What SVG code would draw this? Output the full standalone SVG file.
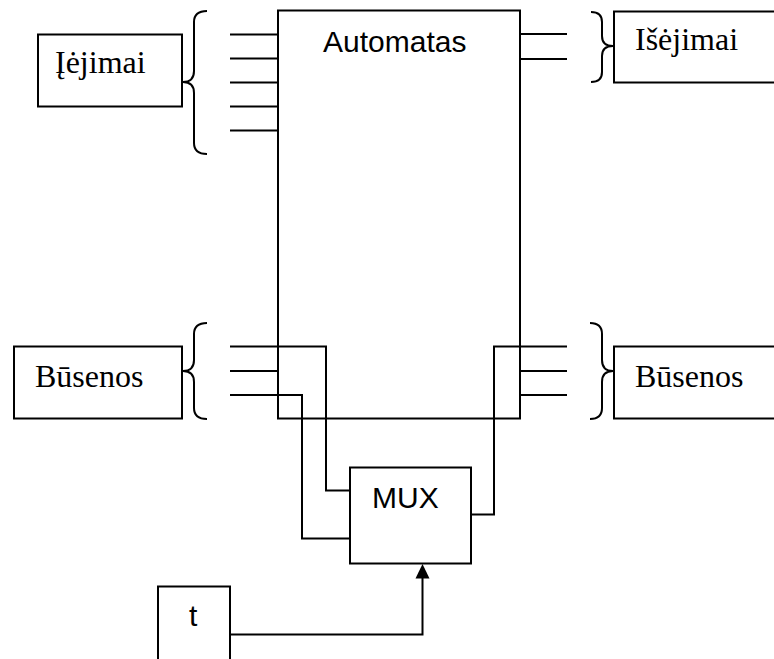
<svg xmlns="http://www.w3.org/2000/svg" width="774" height="659" viewBox="0 0 774 659">
  <style>
    .box { fill: #fff; stroke: #000; stroke-width: 2; }
    .wire { fill: none; stroke: #000; stroke-width: 2; }
    .brace { fill: none; stroke: #000; stroke-width: 2; }
    .serif { font-family: "Liberation Serif", "Times New Roman", serif; font-size: 32px; fill: #000; }
    .sans { font-family: "Liberation Sans", Arial, sans-serif; font-size: 30px; fill: #000; }
  </style>
  <rect width="774" height="659" fill="#fff"/>

  <!-- main state machine block -->
  <g id="automatas">
    <rect class="box" x="278" y="10.5" width="242" height="408"/>
    <text class="sans" x="323" y="52">Automatas</text>
  </g>

  <!-- input signals -->
  <g id="ivestys">
    <rect class="box" x="38" y="34.5" width="144" height="72"/>
    <text class="serif" x="55" y="73">Įėjimai</text>
    <path class="brace" d="M207,11 Q194,11 194,22 L194,71 Q194,82 183,82 Q194,82 194,93 L194,143 Q194,154 207,154"/>
  </g>

  <!-- output signals -->
  <g id="isvestys">
    <rect class="box" x="614" y="11.5" width="170" height="71"/>
    <text class="serif" x="635" y="50">Išėjimai</text>
    <path class="brace" d="M591,12 Q602,12 602,22 L602,36 Q602,46 613,46 Q602,46 602,56 L602,72 Q602,82 591,82"/>
  </g>

  <!-- current state -->
  <g id="busenos-kaire">
    <rect class="box" x="14" y="346.5" width="168" height="72"/>
    <text class="serif" x="35" y="387">Būsenos</text>
    <path class="brace" d="M207,323 Q194,323 194,334 L194,360 Q194,371 183,371 Q194,371 194,382 L194,408 Q194,419 207,419"/>
  </g>

  <!-- next state -->
  <g id="busenos-desine">
    <rect class="box" x="614" y="346.5" width="170" height="72"/>
    <text class="serif" x="635" y="387">Būsenos</text>
    <path class="brace" d="M590,323 Q602,323 602,334 L602,360 Q602,371 613,371 Q602,371 602,382 L602,408 Q602,419 590,419"/>
  </g>

  <!-- multiplexer -->
  <g id="mux">
    <rect class="box" x="350" y="467.5" width="121" height="96"/>
    <text class="sans" x="372" y="508">MUX</text>
  </g>

  <!-- clock -->
  <g id="t">
    <rect class="box" x="158" y="586.5" width="72" height="80"/>
    <text class="sans" x="189" y="626">t</text>
  </g>

  <g id="connectors">
    <!-- input lines -->
    <path class="wire" d="M230,34.5 H278 M230,58.5 H278 M230,82.5 H278 M230,106.5 H278 M230,130.5 H278"/>
    <!-- output lines -->
    <path class="wire" d="M520,34 H567 M520,59 H567"/>
    <!-- state inputs -->
    <path class="wire" d="M230,346.5 H326 V490.5 H350"/>
    <path class="wire" d="M230,371 H278"/>
    <path class="wire" d="M230,395 H302 V538.5 H350"/>
    <!-- state outputs -->
    <path class="wire" d="M471,514.5 H494 V346.5 H567"/>
    <path class="wire" d="M520,371 H567 M520,395 H567"/>
    <!-- clock to MUX -->
    <path class="wire" d="M230,634.5 H422.5 V578"/>
    <path d="M415.5,578.5 L429.5,578.5 L422.5,564 Z" fill="#000"/>
  </g>
</svg>
